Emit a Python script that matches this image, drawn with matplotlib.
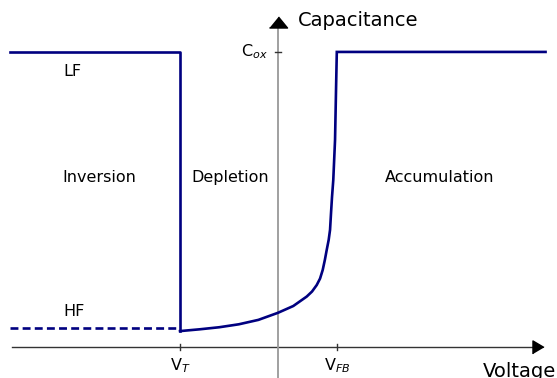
import numpy as np
import matplotlib.pyplot as plt

# --- Datos (voltaje normalizado, capacitancia normalizada a C_ox) ---
V_T = -1.0          # tensión umbral
V_FB = 0.6          # tensión de banda plana
C_ox = 1.0          # capacitancia del óxido
C_HF = 0.064        # nivel en alta frecuencia (inversión)
V_min, V_max = -2.73, 2.73   # extremos de las curvas

# tramo de vaciamiento: de V_T a V_FB
dep_V = [-1.0, -0.8, -0.6, -0.4, -0.2, 0.0, 0.156, 0.293, 0.347, 0.395, 0.429,
         0.456, 0.478, 0.497, 0.517, 0.531, 0.541, 0.551, 0.564, 0.573, 0.582,
         0.592, 0.6]
dep_C = [0.054, 0.060, 0.067, 0.077, 0.092, 0.116, 0.139, 0.171, 0.188, 0.210, 0.232,
         0.261, 0.295, 0.329, 0.363, 0.397, 0.454, 0.508, 0.566, 0.634, 0.702,
         0.871, 1.0]

# etiquetas de regiones
regions = ['Inversion', 'Depletion', 'Accumulation']
region_V = [-1.827, -0.49, 1.653]
region_C = 0.573

line_color = '#000080'

fig = plt.figure(figsize=(5.57, 3.78), dpi=100)
ax = fig.add_axes([0, 0, 1, 1])
ax.set_xlim(-2.837, 2.847)
ax.set_ylim(-0.105, 1.176)
ax.axis('off')

# --- Ejes con flechas ---
ax.plot([-2.71, 2.6], [0, 0], color='#333333', lw=1.0, zorder=1)
ax.plot([0, 0], [-0.2, 1.1], color='#999999', lw=1.3, zorder=1)
head_h = [(-5.5, -6.5), (-5.5, 6.5), (5.5, 0)]
head_v = [(-9, -5.5), (9, -5.5), (0, 5.5)]
ax.plot([2.65], [0], marker=head_h, markersize=9.4, color='black', lw=0, zorder=3)
ax.plot([0], [1.103], marker=head_v, markersize=13, color='black', lw=0, zorder=3)

# marcas de V_T, V_FB y C_ox
for v in [V_T, V_FB]:
    ax.plot([v, v], [-0.01, 0.01], color='#333333', lw=1.0)
ax.plot([-0.03, 0.03], [C_ox, C_ox], color='#333333', lw=1.0)

# --- Curvas C-V ---
# baja frecuencia en inversión
ax.plot([V_min, V_T, V_T], [C_ox, C_ox, dep_C[0]], color=line_color, lw=1.9, zorder=2)
# alta frecuencia en inversión (discontinua)
ax.plot([V_min, V_T], [C_HF, C_HF], color=line_color, lw=1.9, ls=(0, (3, 1.6)), zorder=2)
# vaciamiento + acumulación
ax.plot(dep_V + [V_max], dep_C + [C_ox], color=line_color, lw=1.9, zorder=2,
        solid_joinstyle='miter')

# --- Textos ---
fs = 11.5
ax.text(0.204, 1.108, 'Capacitance', fontsize=14, ha='left', va='center')
ax.text(2.092, -0.083, 'Voltage', fontsize=14, ha='left', va='center')
ax.text(-0.10, C_ox, r'C$_{ox}$', fontsize=fs, ha='right', va='center')
ax.text(V_T, -0.062, r'V$_{T}$', fontsize=fs, ha='center', va='center')
ax.text(V_FB, -0.062, r'V$_{FB}$', fontsize=fs, ha='center', va='center')
ax.text(-2.194, 0.932, 'LF', fontsize=fs, ha='left', va='center')
ax.text(-2.194, 0.119, 'HF', fontsize=fs, ha='left', va='center')
for name, v in zip(regions, region_V):
    ax.text(v, region_C, name, fontsize=fs, ha='center', va='center')

fig.savefig('out.png', dpi=100)
